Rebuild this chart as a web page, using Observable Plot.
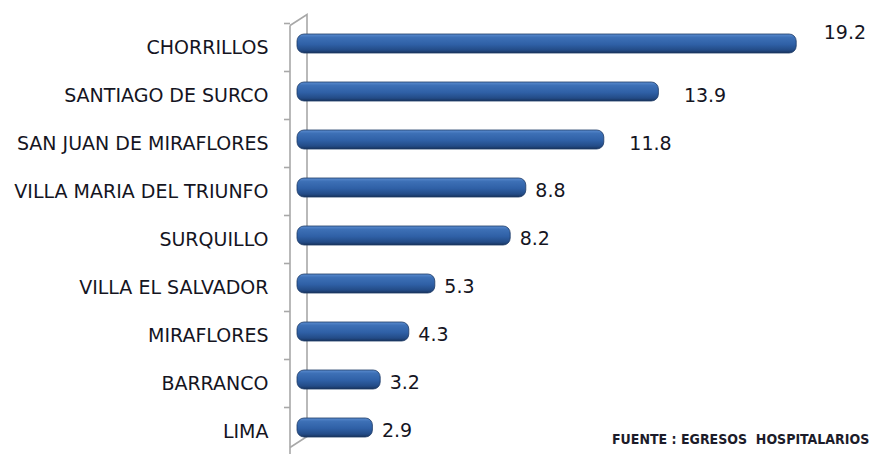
<!DOCTYPE html>
<html>
<head>
<meta charset="utf-8">
<script src="https://cdn.jsdelivr.net/npm/d3@7"></script>
<script src="https://cdn.jsdelivr.net/npm/@observablehq/plot@0.6"></script>
<style>
  html, body { margin: 0; padding: 0; background: #ffffff; }
  #chart { position: relative; width: 872px; height: 454px; }
  #source { position: absolute; left: 612px; top: 431px; font-family: "DejaVu Sans Condensed", "DejaVu Sans", sans-serif; font-weight: bold; font-size: 14px; color: #1c1c2a; white-space: pre; letter-spacing: 0px; }
</style>
</head>
<body>
<div id="chart"></div>
<script>
const categories = ["CHORRILLOS", "SANTIAGO DE SURCO", "SAN JUAN DE MIRAFLORES", "VILLA MARIA DEL TRIUNFO", "SURQUILLO", "VILLA EL SALVADOR", "MIRAFLORES", "BARRANCO", "LIMA"];
const values = [19.2, 13.9, 11.8, 8.8, 8.2, 5.3, 4.3, 3.2, 2.9];
const labels = ["19.2", "13.9", "11.8", "8.8", "8.2", "5.3", "4.3", "3.2", "2.9"];
const sourceText = "FUENTE : EGRESOS  HOSPITALARIOS";

const data = categories.map((c, i) => ({category: c, value: values[i], label: labels[i], i}));

const font = "'DejaVu Sans', Verdana, sans-serif";

const plot = Plot.plot({
  width: 872,
  height: 454,
  marginLeft: 297,
  marginRight: 3,
  marginTop: 27,
  marginBottom: 9,
  style: {fontFamily: font, background: "transparent"},
  x: {domain: [0, 22], axis: null},
  y: {domain: categories, paddingInner: 0.6, paddingOuter: 0.1, label: null},
  marks: [
    Plot.axisY({tickSize: 0, tickPadding: 29, fontSize: 19, dy: 4, fill: "#15151f", label: null}),
    Plot.barX(data, {x: "value", y: "category", fill: "url(#barGrad)", stroke: "#1d3a66", strokeWidth: 0.8, rx: 7}),
    Plot.text(data.filter(d => d.i === 0), {x: "value", y: "category", text: "label", textAnchor: "start", dx: 27, dy: -11, fontSize: 19, fill: "#15151f"}),
    Plot.text(data.filter(d => d.i === 1 || d.i === 2), {x: "value", y: "category", text: "label", textAnchor: "start", dx: 25, dy: 4, fontSize: 19, fill: "#15151f"}),
    Plot.text(data.filter(d => d.i > 2), {x: "value", y: "category", text: "label", textAnchor: "start", dx: 9, dy: 3, fontSize: 19, fill: "#15151f"})
  ]
});

// gradient definition for the cylinder-like bars
const svg = d3.select(plot);
const defs = svg.insert("defs", ":first-child");
const grad = defs.append("linearGradient").attr("id", "barGrad").attr("x1", 0).attr("y1", 0).attr("x2", 0).attr("y2", 1);
[["0%", "#5b8dd0"], ["18%", "#3d70b6"], ["55%", "#2f60a6"], ["85%", "#234b86"], ["100%", "#17325c"]]
  .forEach(([o, c]) => grad.append("stop").attr("offset", o).attr("stop-color", c));

// 3D axis wall drawn from the plot's own scales
const xs = plot.scale("x");
const ys = plot.scale("y");
const x0 = xs.apply(0);
const front = x0 - 7, back = x0 + 10;
const bw = ys.bandwidth;
const firstC = ys.apply(categories[0]) + bw / 2;
const lastC = ys.apply(categories[categories.length - 1]) + bw / 2;
const wall = svg.append("g").attr("stroke", "#a8a8a8").attr("stroke-width", 1.6).attr("fill", "none");
const topFront = firstC - 18, topBack = firstC - 29;
const botBack = lastC + 9, botFront = 454;
wall.append("path").attr("d", `M${front},${topFront} L${back},${topBack} L${back},${botBack} L${front},${botBack + 11}`);
wall.append("line").attr("x1", front).attr("x2", front).attr("y1", topFront).attr("y2", botFront);
categories.forEach(c => {
  const yc = ys.apply(c) + bw / 2 - 20;
  wall.append("line").attr("x1", front - 6).attr("x2", front).attr("y1", yc).attr("y2", yc);
});
// put wall behind bars
plot.insertBefore(wall.node(), defs.node().nextSibling);

document.getElementById("chart").appendChild(plot);
const src = document.createElement("div");
src.id = "source";
src.textContent = sourceText;
document.getElementById("chart").appendChild(src);
</script>
</body>
</html>
